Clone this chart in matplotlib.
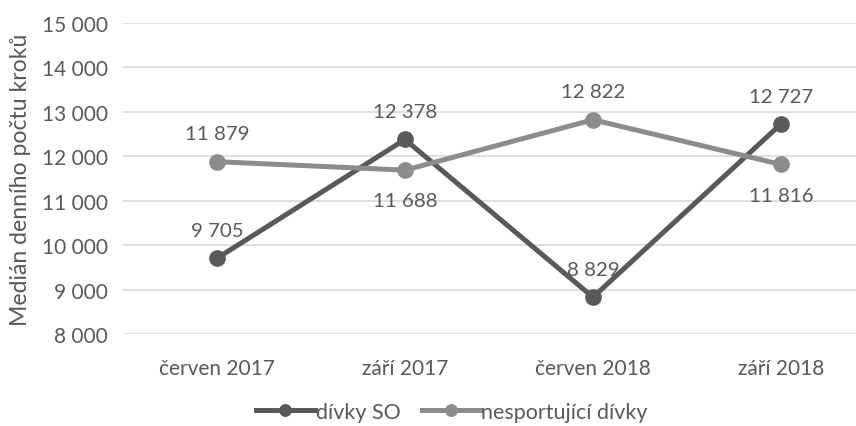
import matplotlib.pyplot as plt
from matplotlib.ticker import FuncFormatter, MultipleLocator

categories = ['červen 2017', 'září 2017', 'červen 2018', 'září 2018']
divky_so = [9705, 12378, 8829, 12727]
nesportujici = [11879, 11688, 12822, 11816]
labels_so_pos = ['above', 'above', 'above', 'above']
labels_ne_pos = ['above', 'below', 'above', 'below']

dark = '#595959'
light = '#8c8c8c'
text_col = '#595959'

plt.rcParams['font.family'] = ['Lato', 'DejaVu Sans']


def fmt(v):
    return f'{int(v):,}'.replace(',', ' ')


fig = plt.figure(figsize=(8.56, 4.27), dpi=100)
ax = fig.add_axes([123 / 856, 1 - 335 / 427, 733 / 856, 311 / 427])

x = list(range(len(categories)))
ax.plot(x, divky_so, color=dark, lw=3.6, marker='o', ms=11, label='dívky SO',
        zorder=3)
ax.plot(x, nesportujici, color=light, lw=3.6, marker='o', ms=11,
        label='nesportující dívky', zorder=3)

for xi, v, p in zip(x, divky_so, labels_so_pos):
    off = 14 if p == 'above' else -16
    ax.annotate(fmt(v), (xi, v), xytext=(0, off), textcoords='offset points',
                ha='center', va='bottom' if p == 'above' else 'top',
                fontsize=14.7, color=text_col)
for xi, v, p in zip(x, nesportujici, labels_ne_pos):
    off = 14 if p == 'above' else -16
    ax.annotate(fmt(v), (xi, v), xytext=(0, off), textcoords='offset points',
                ha='center', va='bottom' if p == 'above' else 'top',
                fontsize=14.7, color=text_col)

ax.set_ylim(8000, 15000)
ax.set_xlim(-0.5, 3.5 - 19 / 188)
ax.yaxis.set_major_locator(MultipleLocator(1000))
ax.yaxis.set_major_formatter(FuncFormatter(lambda v, p: fmt(v)))
ax.set_xticks(x)
ax.set_xticklabels(categories)
ax.grid(axis='y', color='#d9d9d9', lw=1.2)
ax.set_axisbelow(True)
for s in ax.spines.values():
    s.set_visible(False)
ax.tick_params(axis='both', length=0, labelsize=15, colors=text_col)
ax.tick_params(axis='y', pad=11)
ax.tick_params(axis='x', pad=17)
ax.set_ylabel('Medián denního počtu kroků', fontsize=16.6, color=text_col,
              labelpad=8)

fig.legend(loc='center', bbox_to_anchor=(452 / 856, 1 - 413 / 427), ncol=2,
           frameon=False, fontsize=15.5, labelcolor=text_col, handlelength=2.7,
           handletextpad=0.05, columnspacing=1.0, markerscale=0.75)

fig.savefig('out.png', dpi=100)
